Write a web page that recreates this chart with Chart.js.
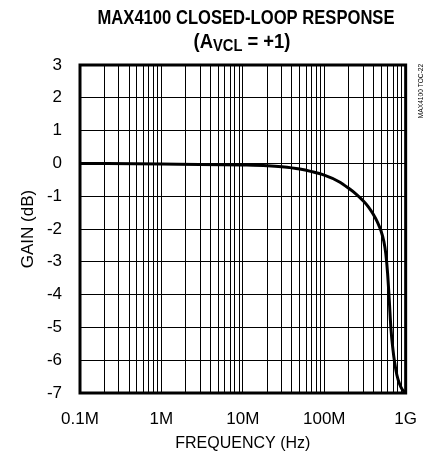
<!DOCTYPE html>
<html><head><meta charset="utf-8">
<script src="https://cdn.jsdelivr.net/npm/chart.js@4"></script>
<style>html,body{margin:0;padding:0;background:#fff;}#wrap{width:433px;height:458px;position:relative;}</style>
</head><body><div id="wrap"><canvas id="c" width="433" height="458"></canvas></div>
<script>
const frequencies = [1e5, 1e6, 1e7, 2e7, 3e7, 5e7, 7e7, 1e8, 1.5e8, 2e8, 2.5e8, 3e8, 3.5e8, 4e8, 4.5e8, 5e8, 5.4e8, 5.7e8, 6.0e8, 6.3e8, 6.6e8, 7.0e8, 7.3e8, 7.8e8, 8.4e8, 9.0e8, 1e9];
const gains = [0.0, -0.02, -0.05, -0.07, -0.1, -0.17, -0.25, -0.36, -0.55, -0.76, -0.95, -1.14, -1.33, -1.55, -1.79, -2.07, -2.38, -2.75, -3.35, -4.2, -5.05, -5.7, -6.05, -6.45, -6.72, -6.88, -7.0];
const xTickValues = [1e5, 1e6, 1e7, 1e8, 1e9];
const xTickLabels = ['0.1M', '1M', '10M', '100M', '1G'];
const yTickValues = [3, 2, 1, 0, -1, -2, -3, -4, -5, -6, -7];
const yTickLabels = ['3', '2', '1', '0', '-1', '-2', '-3', '-4', '-5', '-6', '-7'];
const titleLine1 = 'MAX4100 CLOSED-LOOP RESPONSE';
const titleLine2 = ['(A', 'VCL', ' = +1)'];
const sideNote = 'MAX4100 TOC-22';
const FAM = '"Liberation Sans", Arial, sans-serif';
const NARROW = 0.83;

const decorPlugin = {
  id: 'decor',
  afterDraw(chart) {
    const ctx = chart.ctx, a = chart.chartArea;
    ctx.save();
    ctx.strokeStyle = '#000';
    ctx.lineWidth = 3;
    ctx.strokeRect(a.left, a.top, a.right - a.left, a.bottom - a.top);
    ctx.fillStyle = '#000';
    ctx.textBaseline = 'alphabetic';
    ctx.save();
    ctx.translate(246, 24);
    ctx.scale(NARROW, 1);
    ctx.textAlign = 'center';
    ctx.font = 'bold 20px ' + FAM;
    ctx.fillText(titleLine1, 0, 0);
    ctx.restore();
    const big = 'bold 20px ' + FAM, small = 'bold 16px ' + FAM;
    ctx.font = big; const w1 = ctx.measureText(titleLine2[0]).width;
    ctx.font = small; const w2 = ctx.measureText(titleLine2[1]).width;
    ctx.font = big; const w3 = ctx.measureText(titleLine2[2]).width;
    ctx.save();
    ctx.translate(242, 48);
    ctx.scale(0.92, 1);
    let x = -(w1 + w2 + w3) / 2;
    ctx.textAlign = 'left';
    ctx.font = big; ctx.fillText(titleLine2[0], x, 0); x += w1;
    ctx.font = small; ctx.fillText(titleLine2[1], x, 3); x += w2;
    ctx.font = big; ctx.fillText(titleLine2[2], x, 0);
    ctx.restore();
    ctx.save();
    ctx.translate(421, 91);
    ctx.rotate(-Math.PI / 2);
    ctx.scale(NARROW, 1);
    ctx.textAlign = 'center';
    ctx.textBaseline = 'middle';
    ctx.font = '8px ' + FAM;
    ctx.fillText(sideNote, 0, 0);
    ctx.restore();
    ctx.restore();
  }
};

new Chart(document.getElementById('c'), {
  type: 'line',
  data: {
    datasets: [{
      data: frequencies.map((f, i) => ({ x: f, y: gains[i] })),
      borderColor: '#000',
      borderWidth: 3,
      pointRadius: 0,
      fill: false,
      cubicInterpolationMode: 'monotone'
    }]
  },
  options: {
    responsive: false,
    animation: false,
    layout: { padding: { left: 18, top: 65, right: 25, bottom: 0 } },
    plugins: { legend: { display: false }, tooltip: { enabled: false }, title: { display: false } },
    scales: {
      x: {
        type: 'logarithmic',
        min: 1e5, max: 1e9,
        afterBuildTicks: (axis) => {
          const t = [];
          for (let e = 5; e < 9; e++) for (let m = 1; m < 10; m++) t.push({ value: m * Math.pow(10, e) });
          t.push({ value: 1e9 });
          axis.ticks = t;
        },
        afterFit: (s) => { s.height = 65; },
        ticks: {
          autoSkip: false, maxRotation: 0, minRotation: 0, color: '#000', padding: 16,
          font: { family: FAM, size: 17 },
          callback: (v) => { const i = xTickValues.findIndex(t => Math.abs(t - v) / t < 1e-6); return i >= 0 ? xTickLabels[i] : ''; }
        },
        grid: { color: '#000', lineWidth: 1, drawTicks: false },
        border: { display: false },
        title: { display: true, text: 'FREQUENCY (Hz)', color: '#000', font: { family: FAM, size: 16 }, padding: { top: 0, bottom: 5 } }
      },
      y: {
        min: -7, max: 3,
        afterBuildTicks: (axis) => { axis.ticks = yTickValues.map(v => ({ value: v })); },
        afterFit: (s) => { s.width = 62; },
        ticks: {
          color: '#000', padding: 18,
          font: { family: FAM, size: 17 },
          callback: (v) => { const i = yTickValues.indexOf(v); return i >= 0 ? yTickLabels[i] : ''; }
        },
        grid: { color: '#000', lineWidth: 1, drawTicks: false },
        border: { display: false },
        title: { display: true, text: 'GAIN (dB)', color: '#000', font: { family: FAM, size: 17 }, padding: { top: 0, bottom: 0 } }
      }
    }
  },
  plugins: [decorPlugin]
});
</script></body></html>
